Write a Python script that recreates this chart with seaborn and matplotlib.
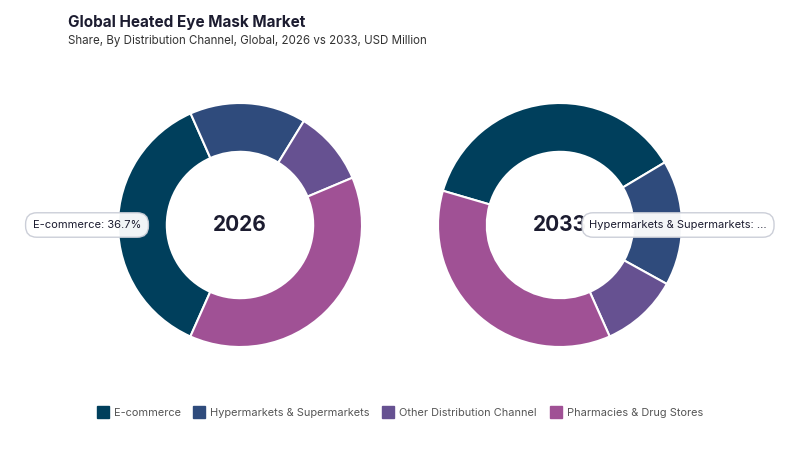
import matplotlib
matplotlib.use("Agg")
import matplotlib.pyplot as plt
from matplotlib.lines import Line2D
import seaborn as sns

# data
channels = ["E-commerce", "Hypermarkets & Supermarkets",
            "Other Distribution Channel", "Pharmacies & Drug Stores"]
share_2026 = [36.7, 15.4, 9.9, 38.0]
share_2033 = [36.9, 16.6, 10.3, 36.2]
years = ["2026", "2033"]

sns.set_theme(style="white")
plt.rcParams["font.family"] = ["Inter", "DejaVu Sans"]
colors = sns.color_palette(["#003f5c", "#2f4b7c", "#665191", "#a05195"])

fig = plt.figure(figsize=(8, 4.5), dpi=100)

# title / subtitle
fig.text(68 / 800, 1 - 22 / 450, "Global Heated Eye Mask Market", fontsize=11,
         weight="bold", color="#1c1c30", va="center", ha="left")
fig.text(68 / 800, 1 - 41 / 450, "Share, By Distribution Channel, Global, 2026 vs 2033, USD Million",
         fontsize=8.3, color="#333333", va="center", ha="left")

# donuts
R = 122
w, h = 2 * R / 800, 2 * R / 450
starts = [-114, 163.7]
centers = [240, 560]
for cx, vals, yr, st in zip(centers, [share_2026, share_2033], years, starts):
    ax = fig.add_axes([(cx - R) / 800, (450 - 225 - R) / 450, w, h])
    ax.pie(vals, colors=colors, startangle=st, counterclock=False, radius=1,
           wedgeprops=dict(width=0.4, edgecolor="white", linewidth=1.5))
    ax.set_xlim(-1, 1)
    ax.set_ylim(-1, 1)
    ax.set_aspect("equal")
    ax.axis("off")
    ax.text(0, 0, yr, ha="center", va="center", fontsize=15, weight="bold", color="#1c1c30")

# hover labels
box = dict(boxstyle="round,pad=0.65,rounding_size=1.0", fc="white", ec="#c9ccd6", lw=1, alpha=0.95)
fig.text(87 / 800, 1 - 225 / 450, "E-commerce: 36.7%", ha="center", va="center",
         fontsize=8, color="#1c1c30", bbox=box, zorder=10)
fig.text(678 / 800, 1 - 225 / 450, "Hypermarkets & Supermarkets: ...", ha="center", va="center",
         fontsize=8, color="#1c1c30", bbox=box, zorder=10)

# legend
handles = [Line2D([0], [0], marker="s", linestyle="", markersize=9, markerfacecolor=c,
                  markeredgecolor=c) for c in colors]
fig.legend(handles, channels, loc="center", bbox_to_anchor=(0.5, 1 - 413 / 450), ncol=4,
           frameon=False, fontsize=7.9, labelcolor="#555555", handletextpad=0.5,
           columnspacing=1.2, handlelength=1)

fig.savefig("out.png", dpi=100)
